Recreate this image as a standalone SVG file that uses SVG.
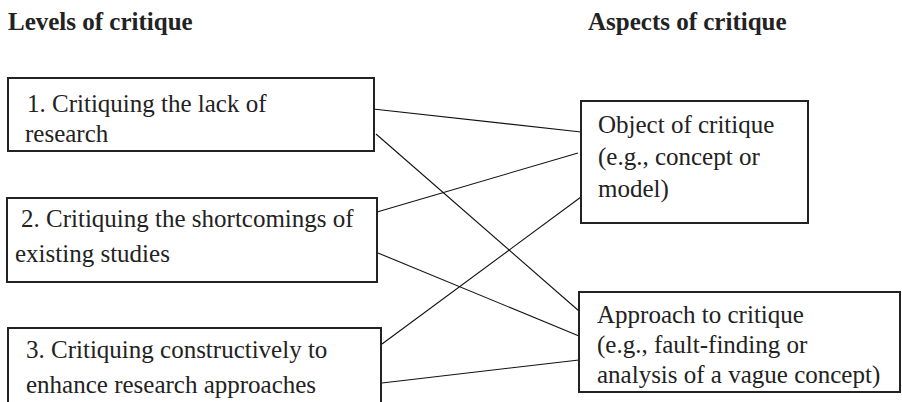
<svg xmlns="http://www.w3.org/2000/svg" width="902" height="402" viewBox="0 0 902 402">
<style>
.box{fill:#fff;stroke:#222;stroke-width:2}
text{font-family:'Liberation Serif','DejaVu Serif','Noto Serif',serif;font-size:25px;fill:#222}
.h{font-weight:bold}
.c line{stroke:#111;stroke-width:1.1}
</style>
<rect width="902" height="402" fill="#fff"/>
<text class="h" x="8" y="30" font-family="Liberation Serif">Levels of critique</text>
<text class="h" x="588" y="30" font-family="Liberation Serif">Aspects of critique</text>
<g class="c" id="connectors">
<line x1="373" y1="109" x2="581" y2="132"/>
<line x1="376" y1="134" x2="579" y2="311"/>
<line x1="377" y1="212" x2="578" y2="153"/>
<line x1="378" y1="253" x2="579" y2="336"/>
<line x1="382" y1="344" x2="581" y2="197"/>
<line x1="382" y1="383" x2="579" y2="360"/>
</g>
<g id="level1" font-family="Liberation Serif">
<rect class="box" x="8" y="78" width="366" height="73"/>
<text x="27" y="112">1. Critiquing the lack of</text>
<text x="25" y="142">research</text>
</g>
<g id="level2">
<rect class="box" x="7" y="198" width="370" height="84"/>
<text x="21" y="227">2. Critiquing the shortcomings of</text>
<text x="15" y="262">existing studies</text>
</g>
<g id="level3">
<rect class="box" x="8" y="328" width="373" height="90"/>
<text x="26" y="358">3. Critiquing constructively to</text>
<text x="26" y="393">enhance research approaches</text>
</g>
<g id="object">
<rect class="box" x="581" y="101" width="227" height="122"/>
<text x="598" y="133">Object of critique</text>
<text x="598" y="165">(e.g., concept or</text>
<text x="598" y="197">model)</text>
</g>
<g id="approach">
<rect class="box" x="579" y="292" width="321" height="100"/>
<text x="597" y="323">Approach to critique</text>
<text x="597" y="353">(e.g., fault-finding or</text>
<text x="597" y="383">analysis of a vague concept)</text>
</g>
</svg>
